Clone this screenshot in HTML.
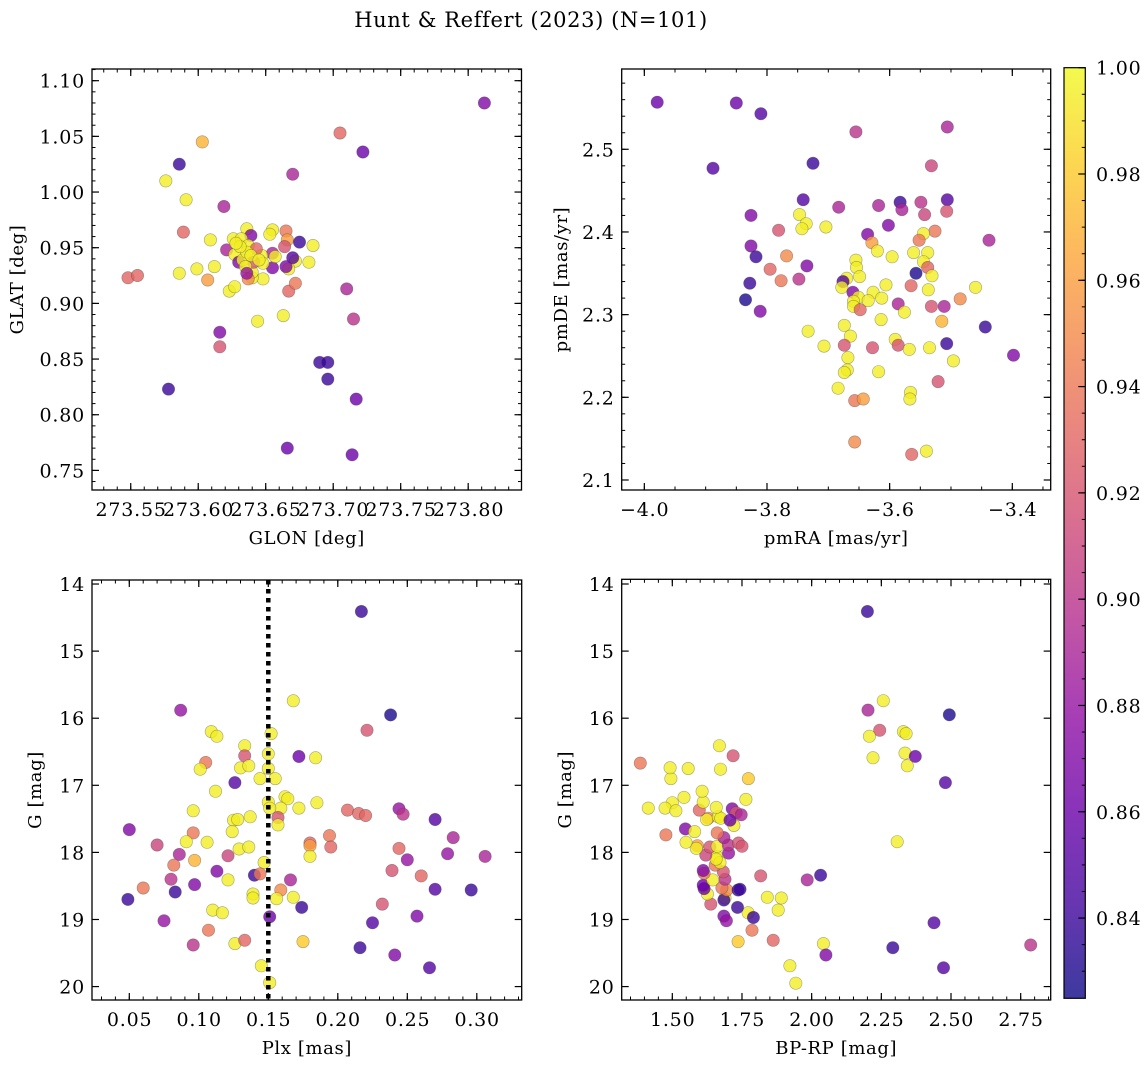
<!DOCTYPE html>
<html><head><meta charset="utf-8"><style>
html,body{margin:0;padding:0;background:#fff;}
svg{display:block;font-family:"DejaVu Serif","Liberation Serif",serif;}
.tk{letter-spacing:0.8px;}
.al{letter-spacing:0.6px;}
</style></head><body>
<svg id="fig" width="1148" height="1067" viewBox="0 0 1148 1067" xmlns="http://www.w3.org/2000/svg">
<defs>
<linearGradient id="plasmaGrad" x1="0" y1="1" x2="0" y2="0"></linearGradient>
<clipPath id="c1"><rect x="92" y="69" width="429.5" height="421"/></clipPath>
<clipPath id="c2"><rect x="621.7" y="69" width="429" height="421"/></clipPath>
<clipPath id="c3"><rect x="92" y="580" width="429.7" height="420"/></clipPath>
<clipPath id="c4"><rect x="621.7" y="579.3" width="429" height="420.7"/></clipPath>
</defs>
<text x="531" y="27" font-size="21" letter-spacing="0.6" text-anchor="middle">Hunt &amp; Reffert (2023) (N=101)</text>
</svg>
<script>
const y = 0.995;
// Panel 1: GLON / GLAT
const glon1=[273.812,273.705,273.722,273.603,273.586,273.670,273.576,273.591,273.619,273.589,273.548,273.555,273.586,273.599,273.607,273.612,273.609,273.623,273.627,273.648,273.640,273.644,273.663,273.667,273.672,273.710,273.715,273.616,273.616,273.690,273.696,273.696,273.717,273.578,273.666,273.714,
273.636,273.655,273.653,273.665,273.666,273.664,273.675,273.685,273.682,273.672,273.667,273.670,273.665,273.655,273.655,273.657,273.647,273.648,273.640,273.641,273.637,273.639,273.626,273.632,273.637,273.643,273.621,273.627,273.630,273.633,273.636,273.631,273.635,273.639,273.628,273.645,273.636];
const glat1=[1.080,1.053,1.036,1.045,1.025,1.016,1.010,0.993,0.987,0.964,0.923,0.925,0.927,0.931,0.921,0.933,0.957,0.911,0.915,0.922,0.923,0.884,0.889,0.911,0.918,0.913,0.886,0.874,0.861,0.847,0.847,0.832,0.814,0.823,0.770,0.764,
0.967,0.966,0.962,0.965,0.957,0.951,0.955,0.952,0.937,0.938,0.931,0.941,0.933,0.932,0.945,0.942,0.943,0.936,0.928,0.937,0.922,0.961,0.958,0.958,0.952,0.949,0.948,0.944,0.937,0.939,0.946,0.951,0.933,0.943,0.954,0.939,0.927];
const prob1=[0.87,0.93,0.86,0.97,0.84,0.89,y,y,0.89,0.93,0.93,0.93,y,y,0.96,y,y,y,y,y,y,y,y,0.93,0.94,0.89,0.90,0.87,0.92,0.84,0.84,0.84,0.86,0.84,0.86,0.86,
y,y,y,0.94,0.96,0.92,0.84,y,y,y,y,0.85,0.87,0.87,0.89,y,y,y,y,0.92,0.95,0.87,y,y,y,0.93,0.89,y,0.87,y,y,y,y,y,y,y,0.88];
// Panel 2: pmRA / pmDE
const pmra2=[-3.979,-3.850,-3.810,-3.655,-3.506,-3.888,-3.725,-3.532,-3.741,-3.683,-3.618,-3.583,-3.580,-3.549,-3.543,-3.506,-3.507,-3.826,-3.747,-3.736,-3.743,-3.704,-3.781,-3.602,-3.636,-3.526,-3.545,-3.552,-3.438,-3.629,-3.620,-3.596,-3.561,-3.538,-3.545,-3.538,-3.531,-3.557,-3.826,-3.818,-3.768,-3.795,-3.735,-3.748,-3.777,-3.828,-3.835,-3.811,-3.655,-3.654,-3.649,-3.670,-3.676,-3.678,-3.660,-3.651,-3.659,-3.659,-3.648,-3.627,-3.635,-3.613,-3.606,-3.565,-3.537,-3.460,-3.485,-3.586,-3.576,-3.532,-3.511,-3.515,-3.444,-3.398,-3.614,-3.674,-3.733,-3.664,-3.674,-3.707,-3.628,-3.591,-3.586,-3.568,-3.535,-3.507,-3.496,-3.668,-3.669,-3.674,-3.618,-3.521,-3.684,-3.566,-3.567,-3.657,-3.643,-3.657,-3.564,-3.540];
const pmde2=[2.557,2.556,2.543,2.521,2.527,2.477,2.483,2.480,2.439,2.430,2.432,2.436,2.427,2.436,2.421,2.439,2.425,2.420,2.421,2.410,2.404,2.406,2.402,2.408,2.397,2.401,2.398,2.390,2.390,2.387,2.377,2.370,2.375,2.375,2.364,2.357,2.347,2.350,2.383,2.370,2.371,2.355,2.359,2.343,2.341,2.338,2.318,2.304,2.366,2.357,2.346,2.344,2.340,2.333,2.327,2.321,2.316,2.310,2.306,2.327,2.317,2.320,2.336,2.335,2.330,2.333,2.319,2.313,2.303,2.310,2.310,2.292,2.285,2.251,2.294,2.287,2.280,2.274,2.263,2.262,2.260,2.270,2.263,2.258,2.260,2.265,2.244,2.248,2.233,2.230,2.231,2.219,2.211,2.206,2.198,2.196,2.198,2.146,2.131,2.135];
const prob2=[0.86,0.86,0.85,0.90,0.89,0.85,0.84,0.91,0.85,0.89,0.89,0.84,0.89,0.90,0.91,0.85,0.92,0.87,y,y,y,y,0.92,0.87,0.87,0.94,y,0.94,0.89,0.96,y,y,y,y,y,0.93,y,0.83,0.87,0.84,0.95,0.93,0.87,0.90,0.94,0.84,0.83,0.87,y,y,y,y,0.85,y,0.87,y,y,y,0.93,y,y,y,y,0.93,y,y,0.95,0.89,y,0.92,0.89,0.97,0.84,0.87,y,y,y,y,0.92,y,0.92,y,0.92,y,y,0.84,y,y,y,y,y,0.92,y,y,y,0.94,0.96,0.95,0.93,y];
// Panel 3: Plx / G
const plx3=[0.217,0.168,0.087,0.238,0.221,0.109,0.113,0.152,0.133,0.133,0.150,0.172,0.184,0.105,0.101,0.130,0.136,0.150,0.144,0.155,0.126,0.112,0.150,0.162,0.164,0.159,0.151,0.172,0.185,0.096,0.157,0.157,0.137,0.125,0.128,0.124,0.207,0.215,0.220,0.244,0.247,0.270,0.050,0.096,0.283,0.070,0.091,0.106,0.129,0.136,0.180,0.180,0.194,0.195,0.244,0.086,0.121,0.180,0.279,0.306,0.097,0.147,0.250,0.082,0.113,0.140,0.144,0.239,0.260,0.080,0.121,0.166,0.060,0.097,0.083,0.139,0.139,0.159,0.156,0.168,0.270,0.296,0.049,0.174,0.110,0.117,0.151,0.232,0.257,0.075,0.225,0.107,0.096,0.126,0.133,0.175,0.216,0.241,0.266,0.145,0.151];
const g3=[14.41,15.74,15.88,15.95,16.18,16.20,16.27,16.23,16.41,16.56,16.53,16.57,16.59,16.66,16.76,16.74,16.71,16.75,16.90,16.90,16.96,17.09,17.25,17.17,17.20,17.34,17.34,17.34,17.26,17.38,17.48,17.59,17.47,17.52,17.51,17.69,17.37,17.42,17.45,17.35,17.43,17.51,17.66,17.71,17.78,17.89,17.84,17.85,17.95,17.92,17.86,17.90,17.75,17.92,17.94,18.03,18.05,18.06,18.02,18.06,18.12,18.15,18.11,18.19,18.28,18.34,18.32,18.27,18.35,18.40,18.41,18.41,18.53,18.48,18.59,18.62,18.68,18.56,18.69,18.67,18.55,18.56,18.70,18.82,18.86,18.90,18.96,18.77,18.95,19.02,19.05,19.16,19.38,19.36,19.31,19.33,19.42,19.53,19.72,19.69,19.94];
const prob3=[0.84,y,0.88,0.83,0.92,y,y,y,y,0.92,y,0.86,y,0.94,y,y,y,y,y,y,0.85,y,y,y,y,y,y,y,y,y,0.92,y,y,y,y,y,0.93,0.93,0.93,0.88,0.90,0.85,0.87,0.94,0.89,0.91,y,y,y,y,0.93,0.96,0.94,0.93,0.93,0.89,0.91,y,0.88,0.89,0.97,y,0.88,0.94,0.87,0.84,0.94,0.92,0.93,0.90,y,0.89,0.94,0.87,0.84,y,y,0.95,y,y,0.85,0.84,0.84,0.84,y,y,0.86,0.92,0.87,0.88,0.85,0.94,0.90,y,0.93,0.98,0.84,0.87,0.85,y,y];
const plxLine = [0.15];
// Panel 4: BP-RP / G
const bprp4=[2.200,2.257,2.202,2.494,2.244,2.207,2.220,2.329,2.339,2.335,2.372,2.343,2.480,2.307,2.032,1.984,2.439,2.291,2.473,2.786,2.042,2.051,1.922,1.943,1.862,1.736,1.786,1.772,1.791,1.734,1.685,1.694,1.638,1.626,1.689,1.685,1.695,1.736,1.743,1.678,1.614,1.611,1.689,1.645,1.683,1.614,1.611,1.817,1.841,1.891,1.880,1.654,1.659,1.671,1.657,1.620,1.635,1.590,1.586,1.549,1.477,1.547,1.580,1.661,1.702,1.701,1.685,1.661,1.738,1.750,1.721,1.629,1.623,1.597,1.665,1.674,1.658,1.715,1.729,1.747,1.707,1.611,1.607,1.542,1.500,1.474,1.513,1.414,1.764,1.495,1.492,1.557,1.385,1.673,1.773,1.718,1.669];
const g4=[14.41,15.74,15.88,15.95,16.18,16.27,16.59,16.20,16.23,16.52,16.57,16.71,16.96,17.84,18.34,18.41,19.05,19.42,19.72,19.38,19.36,19.53,19.69,19.95,19.31,19.33,19.16,18.90,18.97,18.82,18.95,19.02,18.77,18.62,18.68,18.71,18.56,18.56,18.55,18.53,18.54,18.49,18.40,18.41,18.29,18.31,18.27,18.35,18.67,18.68,18.86,18.19,18.06,18.15,18.10,18.04,17.92,17.90,17.94,17.85,17.74,17.65,17.69,17.91,18.01,17.89,17.78,17.71,17.86,17.91,17.60,17.49,17.51,17.37,17.47,17.49,17.33,17.35,17.41,17.44,17.52,17.25,17.09,17.18,17.26,17.34,17.38,17.34,17.21,16.90,16.74,16.75,16.67,16.76,16.90,16.56,16.41];
const prob4=[0.84,y,0.89,0.83,0.92,y,y,y,y,y,0.86,y,0.85,y,0.84,0.89,0.85,0.84,0.85,0.90,y,0.87,y,y,0.93,0.98,0.94,y,0.84,0.84,0.87,0.88,0.92,y,y,0.84,0.95,0.84,0.84,0.94,0.86,0.86,0.90,y,0.92,0.94,0.87,0.92,y,y,y,0.94,y,y,y,0.91,0.92,0.96,y,y,0.94,0.87,y,y,0.88,0.90,0.89,0.94,0.92,0.92,y,0.95,y,0.93,y,y,y,0.87,0.92,0.89,0.86,y,y,y,y,y,y,y,y,y,y,y,0.94,y,0.98,0.92,y];
// Tick values / labels
const p1XTicks=[273.55,273.60,273.65,273.70,273.75,273.80];
const p1XLabels=["273.55","273.60","273.65","273.70","273.75","273.80"];
const p1YTicks=[0.75,0.80,0.85,0.90,0.95,1.00,1.05,1.10];
const p1YLabels=["0.75","0.80","0.85","0.90","0.95","1.00","1.05","1.10"];
const p2XTicks=[-4.0,-3.8,-3.6,-3.4];
const p2XLabels=["\u22124.0","\u22123.8","\u22123.6","\u22123.4"];
const p2YTicks=[2.1,2.2,2.3,2.4,2.5];
const p2YLabels=["2.1","2.2","2.3","2.4","2.5"];
const p3XTicks=[0.05,0.10,0.15,0.20,0.25,0.30];
const p3XLabels=["0.05","0.10","0.15","0.20","0.25","0.30"];
const gTicks=[14,15,16,17,18,19,20];
const gLabels=["14","15","16","17","18","19","20"];
const p4XTicks=[1.50,1.75,2.00,2.25,2.50,2.75];
const p4XLabels=["1.50","1.75","2.00","2.25","2.50","2.75"];
const cbTicks=[0.84,0.86,0.88,0.90,0.92,0.94,0.96,0.98,1.00];
const cbLabels=["0.84","0.86","0.88","0.90","0.92","0.94","0.96","0.98","1.00"];
const VMIN=0.8249, VMAX=1.0;

const NS="http://www.w3.org/2000/svg";
const svg=document.getElementById('fig');
const plasmaStops=[[13,8,135],[65,4,157],[106,0,168],[143,13,164],[177,42,144],[204,71,120],[225,100,98],[242,132,75],[252,166,54],[252,206,37],[240,249,33]];
function plasma(t){t=Math.max(0,Math.min(1,t));const f=t*10;const i=Math.min(9,Math.floor(f));const r=f-i;const a=plasmaStops[i],b=plasmaStops[i+1];
return 'rgb('+[0,1,2].map(k=>Math.round(a[k]+(b[k]-a[k])*r)).join(',')+')';}
function col(p){return plasma((p-VMIN)/(VMAX-VMIN));}
function mk(tag,attrs,parent){const e=document.createElementNS(NS,tag);for(const k in attrs)e.setAttribute(k,attrs[k]);(parent||svg).appendChild(e);return e;}

const grad=document.getElementById('plasmaGrad');
for(let i=0;i<=10;i++){const s=document.createElementNS(NS,'stop');s.setAttribute('offset',(i*10)+'%');s.setAttribute('stop-color',plasma(i/10));grad.appendChild(s);}

function linScale(d0,d1,r0,r1){return v=>r0+(v-d0)/(d1-d0)*(r1-r0);}

function panel(cfg){
  const g=mk('g',{});
  
  
  const {x0,x1,y0,y1}=cfg.box;
  const sx=linScale(cfg.xd[0],cfg.xd[1],x0,x1);
  const sy=linScale(cfg.yd[0],cfg.yd[1],y1,y0);
  const pts=mk('g',{'clip-path':'url(#'+cfg.clip+')'},g);
  
  
  for(let i=0;i<cfg.xs.length;i++){
    const c=mk('circle',{cx:sx(cfg.xs[i]).toFixed(1),cy:sy(cfg.ys[i]).toFixed(1),r:6.2,fill:col(cfg.ps[i]),'fill-opacity':0.8,stroke:'rgba(60,60,60,0.45)','stroke-width':0.6},pts);
    
    
  }
  if(cfg.vline){for(const v of cfg.vline){
    const l=mk('line',{x1:sx(v),x2:sx(v),y1:y0,y2:y1,stroke:'#000','stroke-width':4.5,'stroke-dasharray':'4.5 4.5'},g);
    
    
  }}
  const fr=mk('rect',{x:x0,y:y0,width:x1-x0,height:y1-y0,fill:'none',stroke:'#000','stroke-width':1.3},g);
  
  
  const eps=1e-9;
  for(let v=Math.ceil(cfg.xd[0]/cfg.xm-eps)*cfg.xm; v<=cfg.xd[1]; v+=cfg.xm){
    const X=sx(v);mk('line',{x1:X,x2:X,y1:y1,y2:y1-3.5,stroke:'#000','stroke-width':1},g);mk('line',{x1:X,x2:X,y1:y0,y2:y0+3.5,stroke:'#000','stroke-width':1},g);}
  for(let v=Math.ceil(cfg.yd[0]/cfg.ym-eps)*cfg.ym; v<=cfg.yd[1]; v+=cfg.ym){
    const Y=sy(v);mk('line',{x1:x0,x2:x0+3.5,y1:Y,y2:Y,stroke:'#000','stroke-width':1},g);mk('line',{x1:x1,x2:x1-3.5,y1:Y,y2:Y,stroke:'#000','stroke-width':1},g);}
  cfg.xt.forEach((v,i)=>{const X=sx(v);
    mk('line',{x1:X,x2:X,y1:y1,y2:y1-7,stroke:'#000','stroke-width':1.2},g);mk('line',{x1:X,x2:X,y1:y0,y2:y0+7,stroke:'#000','stroke-width':1.2},g);
    const t=mk('text',{x:X+0.4,y:y1+26,'font-size':19,'text-anchor':'middle','class':'tk'},g);t.textContent=cfg.xl[i];
    
    });
  cfg.yt.forEach((v,i)=>{const Y=sy(v);
    mk('line',{x1:x0,x2:x0+7,y1:Y,y2:Y,stroke:'#000','stroke-width':1.2},g);mk('line',{x1:x1,x2:x1-7,y1:Y,y2:Y,stroke:'#000','stroke-width':1.2},g);
    const t=mk('text',{x:x0-7,y:Y+7,'font-size':19,'text-anchor':'end','class':'tk'},g);t.textContent=cfg.yl[i];
    
    });
  const xt=mk('text',{x:(x0+x1)/2,y:y1+54,'font-size':18,'text-anchor':'middle','class':'al'},g);xt.textContent=cfg.xlab;
  
  
  const yx=cfg.ylx, yc=(y0+y1)/2;
  const yt=mk('text',{x:yx,y:yc,'font-size':18,'text-anchor':'middle','class':'al',transform:'rotate(-90 '+yx+' '+yc+')'},g);yt.textContent=cfg.ylab;
  
  
}

panel({name:'glon-glat-panel',clip:'c1',box:{x0:92,x1:521.5,y0:69,y1:490},xd:[273.5213,273.8395],yd:[0.7324,1.1105],xs:glon1,ys:glat1,ps:prob1,xt:p1XTicks,xl:p1XLabels,yt:p1YTicks,yl:p1YLabels,xm:0.01,ym:0.01,xlab:'GLON [deg]',ylab:'GLAT [deg]',ylx:23});
panel({name:'proper-motion-panel',clip:'c2',box:{x0:621.7,x1:1050.7,y0:69,y1:490},xd:[-4.0369,-3.3374],yd:[2.0879,2.5971],xs:pmra2,ys:pmde2,ps:prob2,xt:p2XTicks,xl:p2XLabels,yt:p2YTicks,yl:p2YLabels,xm:0.05,ym:0.02,xlab:'pmRA [mas/yr]',ylab:'pmDE [mas/yr]',ylx:567});
panel({name:'parallax-mag-panel',clip:'c3',box:{x0:92,x1:521.7,y0:580,y1:1000},xd:[0.02317,0.3323],yd:[20.20,13.94],xs:plx3,ys:g3,ps:prob3,xt:p3XTicks,xl:p3XLabels,yt:gTicks,yl:gLabels,xm:0.01,ym:0.2,xlab:'Plx [mas]',ylab:'G [mag]',ylx:41,vline:plxLine});
panel({name:'cmd-panel',clip:'c4',box:{x0:621.7,x1:1050.7,y0:579.3,y1:1000},xd:[1.3184,2.8577],yd:[20.20,13.93],xs:bprp4,ys:g4,ps:prob4,xt:p4XTicks,xl:p4XLabels,yt:gTicks,yl:gLabels,xm:0.05,ym:0.2,xlab:'BP-RP [mag]',ylab:'G [mag]',ylx:571});

(function(){
  const cx0=1064,cx1=1085.3,cy0=67.7,cy1=998.3;
  const sc=linScale(VMIN,VMAX,cy1,cy0);
  const g=mk('g',{});
  
  
  mk('rect',{x:cx0,y:cy0,width:cx1-cx0,height:cy1-cy0,fill:'url(#plasmaGrad)','fill-opacity':0.8},g);
  mk('rect',{x:cx0,y:cy0,width:cx1-cx0,height:cy1-cy0,fill:'none',stroke:'#000','stroke-width':1.2},g);
  for(let v=0.83;v<=1.0001;v+=0.005){const Y=sc(v);mk('line',{x1:cx1,x2:cx1-3.5,y1:Y,y2:Y,stroke:'#000','stroke-width':1},g);}
  cbTicks.forEach((v,i)=>{const Y=sc(v);mk('line',{x1:cx1,x2:cx1-7,y1:Y,y2:Y,stroke:'#000','stroke-width':1.2},g);
    const t=mk('text',{x:1096,y:Y+7,'font-size':19,'class':'tk'},g);t.textContent=cbLabels[i];
    
    });
})();
</script>
</body></html>
